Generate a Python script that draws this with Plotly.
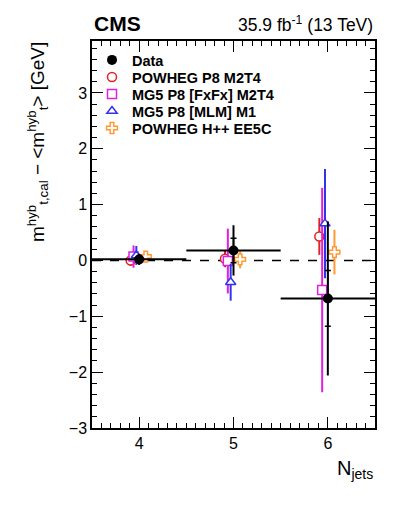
import plotly.graph_objects as go

njets = [4, 5, 6]
bin_half = [0.5, 0.5, 0.5]

data_y = [0.02, 0.18, -0.68]
data_stat = [0.05, 0.22, 0.5]
data_tot = [0.1, 0.45, 1.38]

powheg_p8_y = [0.0, 0.03, 0.43]
powheg_p8_err = [0.1, 0.15, 0.33]
fxfx_y = [0.07, -0.01, -0.53]
fxfx_err = [0.2, 0.58, 1.83]
mlm_y = [0.09, -0.39, 0.66]
mlm_err = [0.17, 0.33, 0.98]
herwig_y = [0.07, 0.02, 0.15]
herwig_err = [0.07, 0.16, 0.4]

FONT = "Liberation Sans, Arial, sans-serif"

fig = go.Figure()

# MC predictions, slightly shifted horizontally so they do not overlap
mc = [
    ("POWHEG P8 M2T4", powheg_p8_y, powheg_p8_err, "circle", "#e02222", -0.09),
    ("MG5 P8 [FxFx] M2T4", fxfx_y, fxfx_err, "square", "#e020e0", -0.06),
    ("MG5 P8 [MLM] M1", mlm_y, mlm_err, "triangle-up", "#3333ee", -0.03),
    ("POWHEG H++ EE5C", herwig_y, herwig_err, "cross", "#ff9933", 0.07),
]
for i, (name, y, err, sym, col, dx) in enumerate(mc):
    fig.add_trace(go.Scatter(
        x=[n + dx for n in njets], y=y, mode="markers", name=name,
        legend="legend%d" % (i + 2),
        marker=dict(symbol=sym, size=9, color="white", line=dict(color=col, width=1.5)),
        error_y=dict(type="data", array=err, color=col, thickness=2, width=0),
    ))

# data on top: total uncertainty, plus stat-only ticks
fig.add_trace(go.Scatter(
    x=njets, y=data_y, mode="markers", name="Data", legend="legend",
    marker=dict(symbol="circle", size=10, color="black"),
    error_y=dict(type="data", array=data_tot, color="black", thickness=2, width=0),
    error_x=dict(type="data", array=bin_half, color="black", thickness=2, width=0),
))
fig.add_trace(go.Scatter(
    x=njets, y=data_y, mode="markers", showlegend=False,
    marker=dict(size=1, color="rgba(0,0,0,0)"),
    error_y=dict(type="data", array=data_stat, color="black", thickness=1.5, width=3),
))

fig.add_shape(type="line", xref="paper", yref="y", x0=0, x1=1, y0=0, y1=0,
              line=dict(color="black", width=1.5, dash="dash"), layer="below")

axis_common = dict(
    showgrid=False, zeroline=False, showline=True, linecolor="black", linewidth=1.5,
    mirror="ticks", ticks="inside", ticklen=11, tickwidth=1.2, tickcolor="black",
    tickfont=dict(family=FONT, size=16, color="black"),
)
fig.update_xaxes(range=[3.5, 6.5], tickvals=[4, 5, 6],
                 minor=dict(ticks="inside", dtick=0.1, ticklen=5, tickcolor="black"),
                 **axis_common)
fig.update_yaxes(range=[-3, 3.93], dtick=1,
                 minor=dict(ticks="inside", dtick=0.2, ticklen=5, tickcolor="black"),
                 **axis_common)

# one legend box per entry so the row spacing can match the reference
leg_rows = [0.951, 0.907, 0.863, 0.819, 0.775]
legends = {}
for i, yy in enumerate(leg_rows):
    key = "legend" if i == 0 else "legend%d" % (i + 1)
    legends[key] = dict(x=0.0, y=yy, xanchor="left", yanchor="middle",
                        bgcolor="rgba(0,0,0,0)",
                        font=dict(family=FONT, size=14.5, weight="bold", color="black"))

fig.update_layout(
    width=399, height=516,
    margin=dict(l=92, r=24, t=41, b=88),
    plot_bgcolor="white", paper_bgcolor="white",
    font=dict(family=FONT, size=14, color="black"),
    showlegend=True,
    annotations=[
        dict(text="<b>CMS</b>", xref="paper", yref="paper", x=0, y=1.01,
             xanchor="left", yanchor="bottom", showarrow=False,
             font=dict(family=FONT, size=21)),
        dict(text="35.9 fb<sup>-1</sup> (13 TeV)", xref="paper", yref="paper", x=1, y=1.01,
             xanchor="right", yanchor="bottom", showarrow=False,
             font=dict(family=FONT, size=17.5)),
        dict(text="N<sub>jets</sub>", xref="paper", yref="paper", x=1, y=-0.07,
             xanchor="right", yanchor="top", showarrow=False,
             font=dict(family=FONT, size=20)),
        dict(text="m<sup>hyb</sup><sub>t,cal</sub> − <m<sup>hyb</sup><sub>t</sub>> [GeV]",
             xref="paper", yref="paper", x=-0.19, y=1.003, textangle=-90,
             xanchor="center", yanchor="top", showarrow=False,
             font=dict(family=FONT, size=19)),
    ],
)
fig.update_layout(**legends)

fig.write_html("out.html", config={"displayModeBar": False},
               post_script="document.body.style.margin='0';")
